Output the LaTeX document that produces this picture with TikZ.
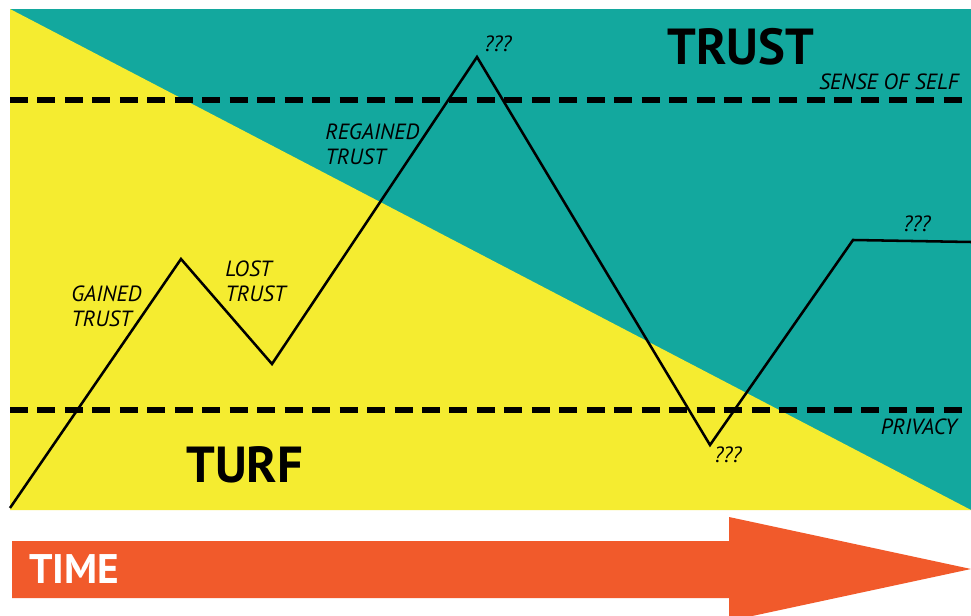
\documentclass[tikz,border=0pt]{standalone}
\usepackage{fontspec}
\setmainfont{PT Sans}
\usepackage{tikz}
\definecolor{trustteal}{RGB}{19,168,158}
\definecolor{turfyellow}{RGB}{245,236,48}
\definecolor{timeorange}{RGB}{241,90,43}
\tikzset{
  label text/.style={anchor=base west,inner sep=0.75pt,font=\fontsize{16.5}{18.75}\selectfont\itshape},
  big text/.style={anchor=base west,inner sep=0.75pt,font=\fontsize{38}{40}\selectfont\bfseries},
  limit line/.style={line width=4.8pt,dash pattern=on 13.5pt off 7.1pt},
}

\begin{document}
\begin{tikzpicture}[x=0.75pt,y=0.75pt,yscale=-1,xscale=1]
        \useasboundingbox (0,0) rectangle (971,616);
        \clip (0,0) rectangle (971,616);
        \fill[white] (0,0) rectangle (971,616);
        %Shape: Rectangle (trust area)
        \fill[trustteal] (10,9) rectangle (971,510);
        %Shape: Triangle (turf area)
        \fill[turfyellow] (10,9) -- (971,510) -- (10,510) -- cycle;
        %Dashed Lines
        \draw[limit line] (10,100) -- (963,100);
        \draw[limit line] (10,410) -- (963,410);
        %Path of trust
        \coordinate (start) at (10,508);
        \coordinate (gain) at (181,259);
        \coordinate (loss) at (272,364);
        \coordinate (peak) at (477,57);
        \coordinate (dip) at (710,445);
        \coordinate (rise) at (853,240);
        \coordinate (finish) at (971,242);
        \draw[line width=1.9pt,line join=miter] (start) -- (gain) -- (loss) -- (peak) -- (dip) -- (rise) -- (finish);
        %Shape: Time arrow
        \fill[timeorange] (12,541) -- (729,541) -- (729,517) -- (971,569) -- (729,621) -- (729,598) -- (12,598) -- cycle;

        % Text Node
        \node (gained) [label text,align=left] at (70,327) {GAINED\\TRUST};
        % Text Node
        \node (lost) [label text,align=left] at (224,302) {LOST\\TRUST};
        % Text Node
        \node (regained) [label text,align=left] at (324,165) {REGAINED\\TRUST};
        % Text Node
        \node (peakq) [label text] at (483,52) {???};
        % Text Node
        \node (dipq) [label text] at (713,463) {???};
        % Text Node
        \node (riseq) [label text] at (902,232) {???};
        % Text Node
        \node (self) [label text,anchor=base east] at (960,90) {SENSE OF SELF};
        % Text Node
        \node (privacy) [label text,anchor=base east] at (958,435) {PRIVACY};
        % Text Node
        \node (trust) [big text] at (666,65) {TRUST};
        % Text Node
        \node (turf) [big text] at (185,482) {TURF};
        % Text Node
        \node (time) [big text,text=white,font=\fontsize{31}{33}\selectfont\bfseries] at (28,583) {TIME};
\end{tikzpicture}
\end{document}
